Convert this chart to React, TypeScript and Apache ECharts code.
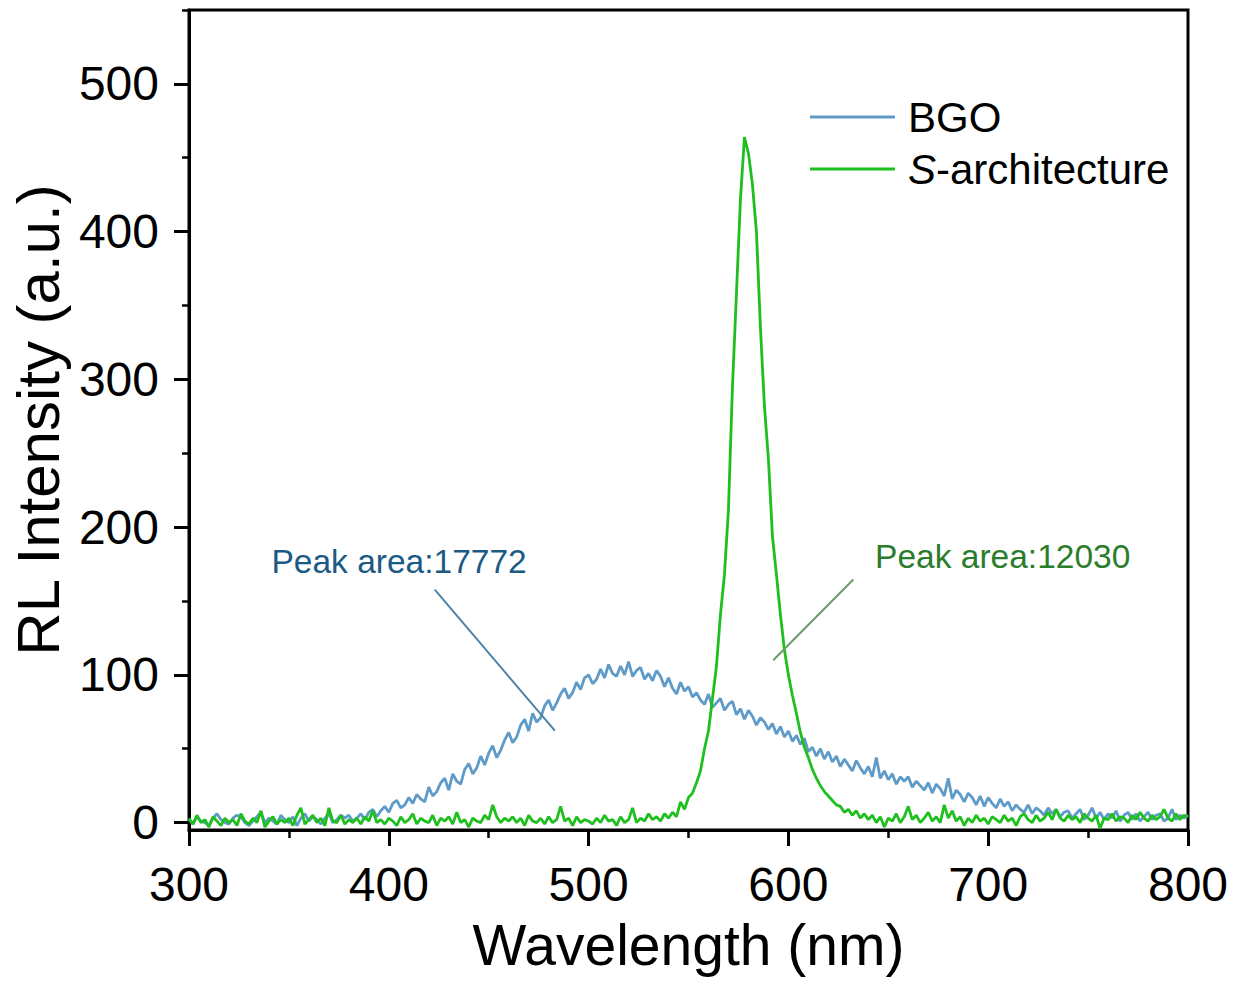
import React, { useEffect, useRef } from "react";
import * as echarts from "echarts";

const FONT = "'Liberation Sans', Arial, Helvetica, sans-serif";

// Sampling grid of the spectra (nm)
const WL_START = 300;
const WL_STEP = 2;

// BGO RL spectrum, 300..800 nm every 2 nm
const bgoValues = [
  2, -1, 4, 1, 0, -2, 3, 6, 2, 0,
  -1, 3, 5, 4, 0, -2, 1, 4, 7, 0,
  3, 1, -1, 5, 2, 0, 4, -2, 3, 6,
  1, 4, 2, -1, 3, 6, 0, 2, 5, 3,
  5, 1, 3, 6, 2, 7, 9, 4, 8, 11,
  7, 13, 15, 10, 12, 17, 13, 19, 16, 14,
  24, 18, 21, 27, 30, 22, 33, 28, 26, 36,
  40, 33, 37, 45, 39, 47, 52, 44, 49, 56,
  61, 54, 58, 66, 70, 62, 74, 68, 71, 79,
  83, 76, 81, 87, 91, 84, 88, 95, 90, 98,
  100, 94, 97, 104, 98, 107, 101, 99, 106, 100,
  109, 99, 103, 105, 97, 101, 96, 103, 99, 92,
  98, 91, 87, 95, 89, 92, 85, 88, 83, 80,
  87, 78, 81, 84, 76, 80, 82, 73, 77, 70,
  76, 72, 66, 71, 68, 63, 67, 60, 65, 58,
  62, 55, 59, 53, 57, 48, 51, 45, 50, 43,
  48, 41, 45, 38, 43, 39, 35, 42, 37, 33,
  38, 31, 44, 30, 35, 29, 33, 26, 31, 28,
  31, 24, 28, 25, 22, 27, 20, 26, 23, 18,
  30, 16, 22, 19, 14, 20, 17, 12, 18, 11,
  17, 13, 10, 16, 11, 14, 8, 12, 9, 7,
  12, 6, 10, 8, 5, 10, 6, 9, 4, 7,
  8, 3, 6, 9, 2, 5, 10, 3, 7, 2,
  6, 3, 8, 1, 5, 7, 2, 6, 1, 4,
  7, 2, 5, 6, 1, 3, 9, 2, 5, 3,
  5,
];

// S-architecture RL spectrum, 300..800 nm every 2 nm
const sArchValues = [
  3, -1, 5, 0, 2, -3, 4, 1, -2, 3,
  0, 2, -2, 6, 1, -1, 3, 0, 8, -3,
  1, 4, -1, 2, 0, 3, -2, 5, 10, -1,
  2, 5, 0, 3, -2, 10, 1, 0, 5, -1,
  2, 0, 3, -1, 4, 1, 8, 0, 2, -1,
  3, 1, -2, 4, 0, 2, 6, -1, 3, 1,
  0, 5, -2, 3, 1, 4, -1, 7, 0, 2,
  -3, 3, 1, 0, 5, 2, 12, 4, 0, 3,
  1, 4, 0, 3, -2, 5, 1, 0, 3, -1,
  4, 0, 2, 11, 1, 3, -2, 4, 0, 2,
  1, -1, 3, 0, 5, 1, 2, -2, 4, 0,
  2, 10, 0, 3, 1, 6, 2, 4, 1, 6,
  3, 7, 4, 14, 9, 17, 20, 27, 35, 50,
  62, 84, 106, 141, 168, 212, 295, 358, 422, 464,
  453, 432, 400, 335, 282, 246, 194, 168, 141, 117,
  100, 86, 74, 61, 51, 44, 36, 30, 25, 21,
  18, 15, 12, 11, 7, 9, 5, 8, 3, 6,
  2, 5, 0, 4, -3, 3, 1, 6, 0, 4,
  11, 2, 5, 0, 3, 7, 1, 4, 0, 12,
  3, 8, 1, 4, -2, 3, 0, 5, 1, 3,
  -1, 4, 2, 0, 5, 1, 3, -2, 4, 6,
  2, 0, 5, 1, 3, 7, 2, 9, 3, 1,
  5, 2, 4, 0, 6, 3, 1, 5, -4, 3,
  2, 6, 1, 4, 3, 0, 5, 2, 7, 3,
  1, 5, 2, 4, 9, 3, 1, 6, 2, 5,
  4,
];

const seriesNames = ["BGO", "S-architecture"];
const seriesColors = ["#5f9bc8", "#1fbf1f"];

const xRange = [300, 800];
const yRange = [-5, 550];
const yMajorTicks = [0, 100, 200, 300, 400, 500];
const yMinorTicks = [50, 150, 250, 350, 450, 550];

// Annotations (data coordinates)
const annotationTexts = ["Peak area:17772", "Peak area:12030"];
const annotationTextAt = [
  [341.3, 176.8],
  [643.4, 180.2],
];
const annotationLineFrom = [
  [423.0, 157.7],
  [632.5, 164.5],
];
const annotationLineTo = [
  [483.1, 62.2],
  [592.4, 109.9],
];
const annotationTextColors = ["#1b5a85", "#2a7d2a"];
const annotationLineColors = ["#4f83a6", "#6c9a6c"];

function toPairs(values: number[]) {
  return values.map((v, i) => [WL_START + i * WL_STEP, v]);
}

export default function App() {
  const ref = useRef<HTMLDivElement>(null);

  useEffect(() => {
    if (!ref.current) return;
    const chart = echarts.init(ref.current, undefined, { renderer: "svg" });

    const axisColor = "#000";
    const option: any = {
      animation: false,
      backgroundColor: "#ffffff",
      grid: {
        left: 189,
        right: 55,
        top: 10,
        bottom: 155,
        show: true,
        borderColor: axisColor,
        borderWidth: 3,
        backgroundColor: "transparent",
      },
      xAxis: {
        type: "value",
        min: xRange[0],
        max: xRange[1],
        interval: 100,
        name: "Wavelength (nm)",
        nameLocation: "middle",
        nameGap: 86,
        nameTextStyle: { fontSize: 57, color: "#000", fontFamily: FONT },
        axisLine: { show: true, onZero: false, lineStyle: { color: axisColor, width: 3 } },
        axisTick: { show: true, length: 16, lineStyle: { color: axisColor, width: 3 } },
        minorTick: { show: true, splitNumber: 2, length: 8, lineStyle: { color: axisColor, width: 2.5 } },
        axisLabel: { fontSize: 48, color: "#000", margin: 30, fontFamily: FONT },
        splitLine: { show: false },
        minorSplitLine: { show: false },
      },
      yAxis: [
        {
          type: "value",
          min: yRange[0],
          max: yRange[1],
          position: "left",
          name: "RL Intensity (a.u.)",
          nameLocation: "middle",
          nameGap: 116,
          nameTextStyle: { fontSize: 60, color: "#000", fontFamily: FONT },
          axisLine: { show: true, onZero: false, lineStyle: { color: axisColor, width: 3 } },
          axisTick: { show: true, customValues: yMajorTicks, length: 15, lineStyle: { color: axisColor, width: 3 } },
          axisLabel: { customValues: yMajorTicks, fontSize: 48, color: "#000", margin: 30, fontFamily: FONT },
          splitLine: { show: false },
        },
        {
          type: "value",
          min: yRange[0],
          max: yRange[1],
          position: "left",
          axisLine: { show: false, onZero: false },
          axisTick: { show: true, customValues: yMinorTicks, length: 7, lineStyle: { color: axisColor, width: 2.5 } },
          axisLabel: { show: false },
          splitLine: { show: false },
        },
      ],
      legend: {
        orient: "vertical",
        left: 810,
        top: 95,
        padding: 0,
        icon: "rect",
        itemWidth: 85,
        itemHeight: 3,
        itemGap: 8,
        data: seriesNames,
        formatter: (name: string) => (name === "S-architecture" ? "{i|S}-architecture" : name),
        textStyle: {
          fontSize: 42,
          color: "#000",
          fontFamily: FONT,
          lineHeight: 44,
          padding: [0, 0, 0, 8],
          rich: {
            i: { fontStyle: "italic", fontSize: 42, color: "#000", fontFamily: FONT, lineHeight: 44 },
          },
        },
      },
      series: [
        {
          name: seriesNames[0],
          type: "line",
          yAxisIndex: 0,
          data: toPairs(bgoValues),
          showSymbol: false,
          symbol: "none",
          lineStyle: { color: seriesColors[0], width: 2.8 },
          itemStyle: { color: seriesColors[0] },
        },
        {
          name: seriesNames[1],
          type: "line",
          yAxisIndex: 0,
          data: toPairs(sArchValues),
          showSymbol: false,
          symbol: "none",
          lineStyle: { color: seriesColors[1], width: 2.8 },
          itemStyle: { color: seriesColors[1] },
        },
      ],
    };

    chart.setOption(option);

    const px = (p: number[]) => chart.convertToPixel({ xAxisIndex: 0, yAxisIndex: 0 }, p) as number[];
    const graphics: any[] = [];
    annotationTexts.forEach((t, i) => {
      const a = px(annotationLineFrom[i]);
      const b = px(annotationLineTo[i]);
      graphics.push({
        type: "line",
        shape: { x1: a[0], y1: a[1], x2: b[0], y2: b[1] },
        style: { stroke: annotationLineColors[i], lineWidth: 2 },
        z: 10,
      });
      const tp = px(annotationTextAt[i]);
      graphics.push({
        type: "text",
        x: tp[0],
        y: tp[1],
        style: {
          text: t,
          fill: annotationTextColors[i],
          fontSize: 33.5,
          fontFamily: FONT,
          align: "left",
          verticalAlign: "middle",
        },
        z: 10,
      });
    });
    chart.setOption({ graphic: graphics });

    return () => {
      chart.dispose();
    };
  }, []);

  return (
    <div
      ref={ref}
      style={{ position: "fixed", left: 0, top: 0, width: 1243, height: 985, background: "#fff" }}
    />
  );
}
